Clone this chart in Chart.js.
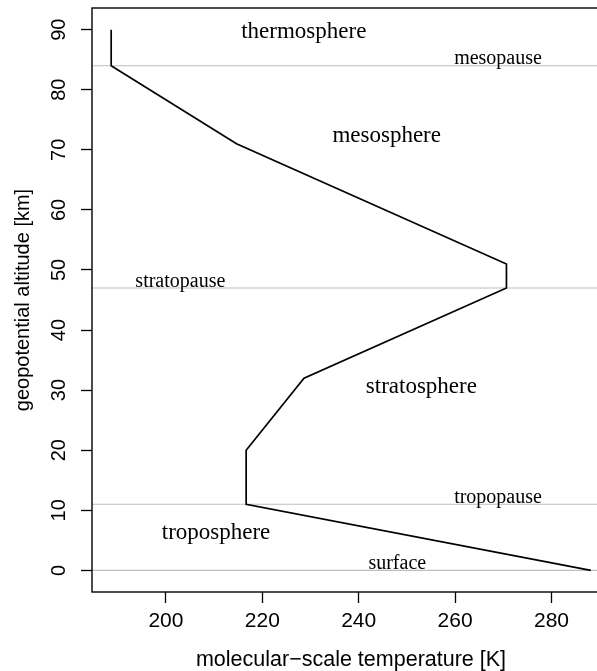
<!DOCTYPE html>
<html><head><meta charset="utf-8">
<script src="https://cdn.jsdelivr.net/npm/chart.js@4/dist/chart.umd.min.js"></script>
<style>html,body{margin:0;padding:0;overflow:hidden;background:#fff;width:597px;height:671px}#wrap{width:650px;height:671px}canvas{display:block}</style>
</head><body><div id="wrap"><canvas id="c" width="650" height="671"></canvas></div>
<script>
const altitude = [0, 11, 20, 32, 47, 51, 71, 84, 90];
const temperature = [288.15, 216.65, 216.65, 228.65, 270.65, 270.65, 214.65, 188.65, 188.65];
const boundaryAltitudes = [0, 11, 47, 84];
const xTickValues = [200, 220, 240, 260, 280];
const yTickValues = [0, 10, 20, 30, 40, 50, 60, 70, 80, 90];
const layerNames = ['thermosphere', 'mesosphere', 'stratosphere', 'troposphere'];
const layerX = [228.6, 245.8, 253.0, 210.4];
const layerY = [89.6, 72.3, 30.6, 6.3];
const boundaryNames = ['mesopause', 'stratopause', 'tropopause', 'surface'];
const boundaryX = [268.9, 203.0, 268.9, 248.0];
const boundaryY = [85.15, 48.1, 12.15, 1.15];
const xTitle = 'molecular\u2212scale temperature [K]';
const yTitle = 'geopotential altitude [km]';

const tMin = Math.min(...temperature), tMax = Math.max(...temperature);
const aMin = Math.min(...altitude), aMax = Math.max(...altitude);
const xMin = tMin - 0.04 * (tMax - tMin), xMax = tMax + 0.04 * (tMax - tMin);
const yMin = aMin - 0.04 * (aMax - aMin), yMax = aMax + 0.04 * (aMax - aMin);

const SANS = "'Liberation Sans', Arial, sans-serif";
const SERIF = "'Liberation Serif', 'Times New Roman', serif";

const boxPlugin = {
  id: 'box',
  afterDraw(chart) {
    const {ctx, chartArea: a} = chart;
    ctx.save();
    ctx.strokeStyle = '#000';
    ctx.lineWidth = 1.4;
    ctx.strokeRect(a.left, a.top, a.right - a.left, a.bottom - a.top);
    ctx.restore();
  }
};

const labelPlugin = {
  id: 'labels',
  afterDatasetsDraw(chart) {
    const {ctx, scales: {x, y}} = chart;
    ctx.save();
    ctx.fillStyle = '#000';
    ctx.textAlign = 'center';
    ctx.textBaseline = 'middle';
    ctx.font = "23px " + SERIF;
    layerNames.forEach((n, i) => ctx.fillText(n, x.getPixelForValue(layerX[i]), y.getPixelForValue(layerY[i])));
    ctx.font = "20px " + SERIF;
    boundaryNames.forEach((n, i) => ctx.fillText(n, x.getPixelForValue(boundaryX[i]), y.getPixelForValue(boundaryY[i])));
    ctx.restore();
  }
};

const datasets = [
  {
    data: altitude.map((a, i) => ({x: temperature[i], y: a})),
    showLine: true, borderColor: '#000', borderWidth: 1.7, pointRadius: 0, tension: 0, fill: false
  },
  ...boundaryAltitudes.map(a => ({
    data: [{x: xMin, y: a}, {x: xMax, y: a}],
    showLine: true, borderColor: '#bebebe', borderWidth: 1.1, pointRadius: 0, fill: false
  }))
];

new Chart(document.getElementById('c'), {
  type: 'scatter',
  data: {datasets},
  options: {
    responsive: false,
    animation: false,
    devicePixelRatio: 1,
    layout: {padding: {left: 0, right: 40, top: 8, bottom: 0}},
    plugins: {legend: {display: false}, tooltip: {enabled: false}},
    scales: {
      x: {
        type: 'linear', position: 'bottom', min: xMin, max: xMax,
        afterBuildTicks: s => { s.ticks = xTickValues.map(v => ({value: v})); },
        afterFit: s => { s.height = 79; s.paddingLeft = 0; s.paddingRight = 0; },
        grid: {display: true, drawOnChartArea: false, drawTicks: true, tickLength: 11, tickColor: '#000', tickWidth: 1.3},
        border: {display: false},
        ticks: {color: '#000', font: {family: SANS, size: 21}, padding: 6, minRotation: 0, maxRotation: 0, autoSkip: false},
        title: {display: true, text: xTitle, color: '#000', font: {family: SANS, size: 21.5, lineHeight: 1.05}, padding: {top: 0, bottom: 0}}
      },
      y: {
        type: 'linear', position: 'left', min: yMin, max: yMax,
        afterBuildTicks: s => { s.ticks = yTickValues.map(v => ({value: v})); },
        afterFit: s => { s.width = 92; s.paddingTop = 0; s.paddingBottom = 0; },
        grid: {display: true, drawOnChartArea: false, drawTicks: true, tickLength: 11, tickColor: '#000', tickWidth: 1.3},
        border: {display: false},
        ticks: {color: '#000', font: {family: SANS, size: 20}, padding: 10.5, minRotation: 90, maxRotation: 90, crossAlign: 'center', autoSkip: false},
        title: {display: true, text: yTitle, color: '#000', font: {family: SANS, size: 20}, padding: {top: 11.7, bottom: 0}}
      }
    }
  },
  plugins: [boxPlugin, labelPlugin]
});
</script>
</body></html>
